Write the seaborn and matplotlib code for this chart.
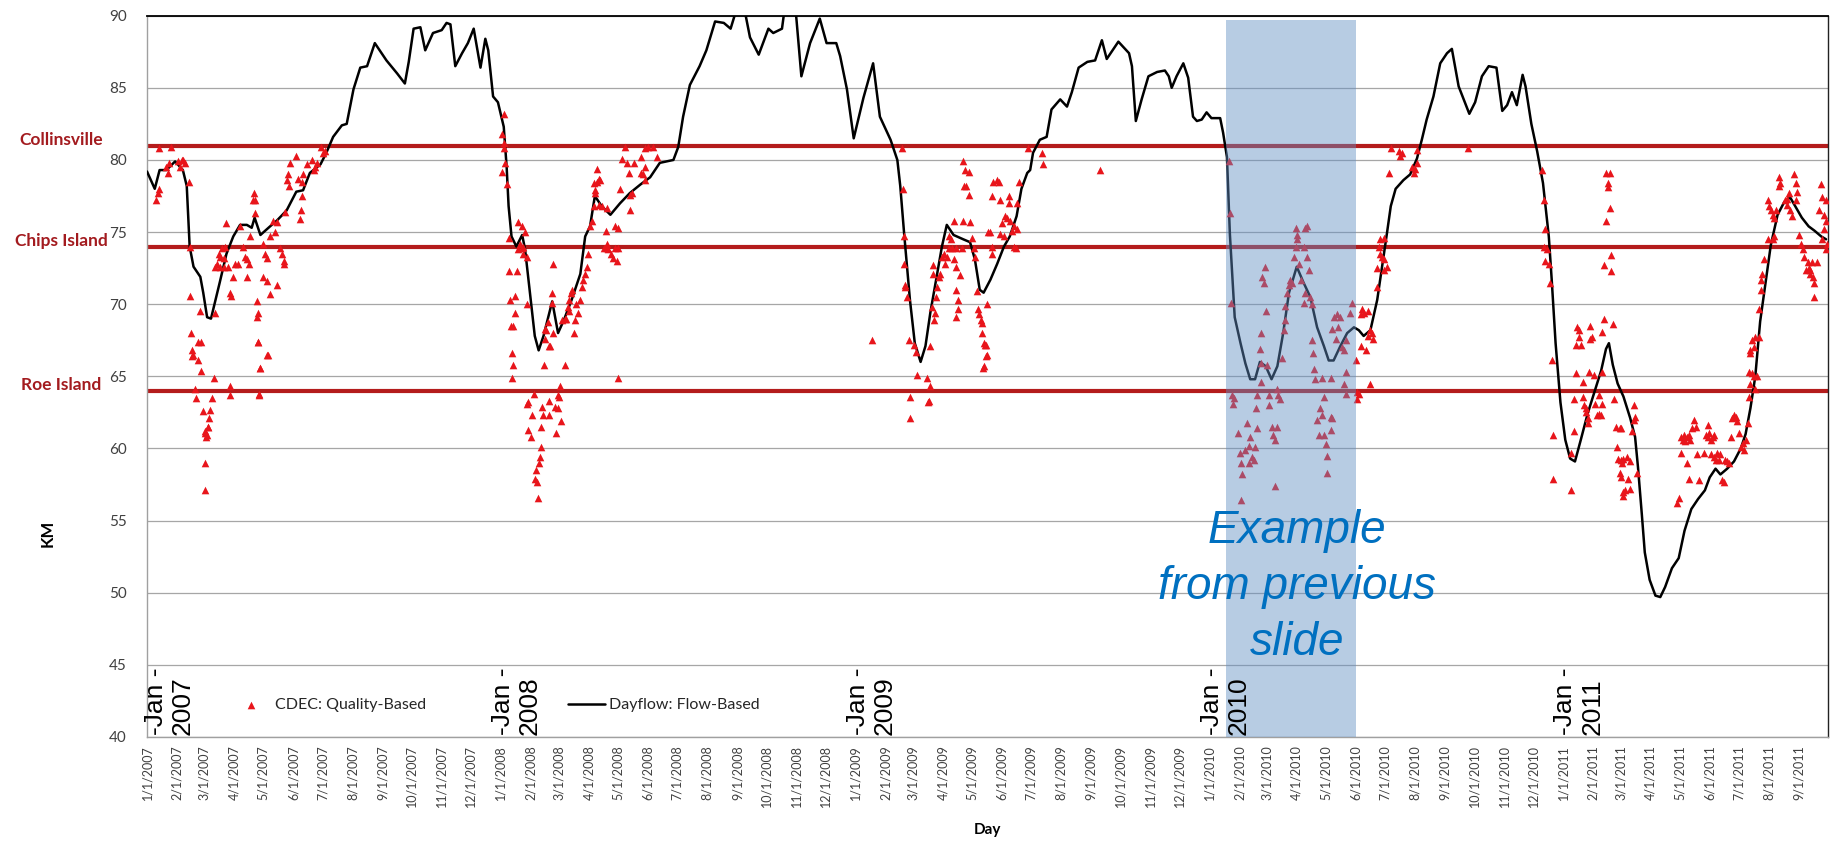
import matplotlib
matplotlib.use("Agg")
import matplotlib.pyplot as plt
import matplotlib.transforms as mtransforms
import pandas as pd
import seaborn as sns

# ---------------------------------------------------------------- data
START = pd.Timestamp("2007-01-01")
END = pd.Timestamp("2011-10-01")

# Dayflow X2 position (days after 1 Jan 2007, km)
flow_day = [0, 8, 13, 20, 29, 37, 41, 44, 48, 55, 58, 62, 66, 75, 82, 89, 96, 103, 108, 111, 117, 122, 127, 134,
            144, 154, 161, 168, 179, 185, 192, 201, 206, 213, 220, 227, 235, 247, 258, 266, 270, 275, 282, 287,
            295, 304, 309, 313, 318, 325, 331, 337, 344, 349, 352, 357, 362, 368, 371, 373, 376, 381, 387, 390,
            395, 400, 404, 409, 418, 424, 430, 438, 447, 452, 457, 462, 469, 478, 488, 498, 509, 519, 529, 543,
            548, 553, 560, 570, 577, 586, 595, 602, 607, 617, 622, 631, 641, 646, 655, 658, 663, 669, 670, 675,
            684, 694, 701, 711, 715, 722, 729, 739, 749, 756, 767, 774, 777, 781, 787, 792, 798, 803, 808, 815,
            820, 825, 832, 842, 849, 854, 859, 863, 870, 877, 884, 890, 897, 902, 908, 911, 914, 921, 928, 933,
            942, 949, 954, 961, 970, 978, 985, 990, 995, 1002, 1013, 1016, 1020, 1026, 1033, 1042, 1050, 1054,
            1057, 1062, 1069, 1074, 1079, 1083, 1088, 1093, 1098, 1107, 1110, 1114, 1117, 1122, 1128, 1133, 1138,
            1143, 1148, 1154, 1160, 1166, 1172, 1178, 1186, 1193, 1200, 1207, 1214, 1219, 1224, 1231, 1238, 1245,
            1250, 1255, 1262, 1269, 1276, 1279, 1283, 1288, 1296, 1303, 1310, 1315, 1320, 1327, 1334, 1341, 1346,
            1353, 1364, 1370, 1377, 1384, 1392, 1398, 1403, 1408, 1413, 1419, 1422, 1428, 1434, 1440, 1446, 1449,
            1453, 1458, 1463, 1468, 1473, 1479, 1486, 1493, 1500, 1505, 1508, 1512, 1517, 1523, 1530, 1535, 1538,
            1542, 1545, 1550, 1556, 1561, 1566, 1573, 1580, 1586, 1593, 1600, 1607, 1612, 1618, 1623, 1630, 1637,
            1644, 1649, 1654, 1659, 1664, 1670, 1675, 1682, 1689, 1695, 1701, 1707, 1714, 1720, 1727, 1732]
flow_km = [79.2, 78.0, 79.3, 79.3, 79.9, 79.3, 78.2, 74.0, 72.6, 71.9, 70.8, 69.1, 69.0, 71.5, 73.5, 74.7, 75.5,
           75.5, 75.3, 76.0, 74.8, 75.1, 75.4, 75.8, 76.5, 77.8, 77.9, 79.1, 79.7, 80.5, 81.6, 82.4, 82.5, 84.9,
           86.4, 86.5, 88.1, 86.9, 86.0, 85.3, 86.8, 89.1, 89.2, 87.6, 88.8, 89.0, 89.5, 89.4, 86.5, 87.4, 88.1,
           89.1, 86.4, 88.4, 87.6, 84.4, 84.0, 82.3, 79.5, 76.8, 74.7, 74.0, 74.8, 73.8, 70.8, 67.8, 66.8, 67.8,
           70.2, 68.0, 68.9, 70.3, 72.1, 74.7, 75.4, 77.5, 76.8, 76.2, 77.0, 77.7, 78.3, 78.8, 79.8, 80.0, 80.9,
           83.0, 85.2, 86.5, 87.6, 89.6, 89.5, 89.1, 90.2, 90.2, 88.5, 87.3, 89.1, 88.8, 89.1, 90.6, 91.5, 90.4,
           89.7, 85.8, 88.1, 89.8, 88.1, 88.1, 87.2, 84.9, 81.5, 84.3, 86.7, 83.0, 81.4, 80.0, 78.2, 74.9, 70.3,
           67.3, 66.0, 67.1, 69.4, 72.1, 74.0, 75.5, 74.8, 74.5, 74.3, 73.1, 71.0, 70.8, 71.7, 72.8, 74.0, 74.7,
           76.1, 78.0, 79.1, 79.3, 80.5, 81.4, 81.6, 83.5, 84.2, 83.7, 84.7, 86.4, 86.8, 86.9, 88.3, 87.0, 87.5,
           88.2, 87.4, 86.5, 82.7, 84.2, 85.8, 86.1, 86.2, 85.8, 85.0, 85.8, 86.7, 85.7, 83.0, 82.7, 82.8, 83.3,
           82.9, 82.9, 81.9, 80.2, 74.9, 69.1, 67.3, 65.9, 64.8, 64.8, 66.0, 65.7, 64.8, 65.7, 68.0, 70.8, 72.6,
           71.5, 70.5, 68.4, 67.1, 66.1, 66.1, 67.1, 68.0, 68.4, 68.2, 67.8, 68.2, 70.3, 73.5, 74.9, 76.8, 78.0,
           78.6, 79.0, 80.1, 81.4, 82.8, 84.4, 86.7, 87.4, 87.7, 85.1, 83.2, 84.0, 85.8, 86.5, 86.4, 83.4, 83.8,
           84.7, 83.8, 85.9, 85.1, 82.5, 80.6, 78.4, 74.7, 71.7, 67.3, 63.2, 60.6, 59.3, 59.1, 60.6, 62.4, 63.9,
           65.4, 66.9, 67.3, 65.8, 64.5, 63.6, 62.1, 60.8, 58.7, 55.4, 52.8, 50.9, 49.8, 49.7, 50.4, 51.7, 52.4,
           54.3, 55.8, 56.5, 57.1, 58.0, 58.6, 58.2, 58.6, 59.1, 60.0, 61.0, 62.8, 65.0, 68.8, 71.7, 74.1, 76.2,
           77.1, 77.4, 76.7, 76.0, 75.4, 75.1, 74.7, 74.5]

# CDEC quality-based X2 samples (days after 1 Jan 2007, km), by water season
cdec_2007 = [(12, 80.8), (25, 80.9), (9, 77.2), (11, 77.7), (12, 78.0), (20, 79.5), (23, 79.8), (22, 79.1),
             (32, 79.9), (36, 80.0), (37, 80.0), (39, 79.8), (34, 79.5), (43, 78.5), (44, 74.0), (44, 70.6),
             (45, 68.0), (46, 66.8), (46, 66.4), (47, 66.5), (53, 67.4), (56, 67.4), (53, 66.1), (56, 65.4),
             (55, 69.5), (69, 64.9), (67, 63.5), (70, 69.4), (49, 64.1), (51, 63.5), (86, 64.3), (86, 63.7),
             (58, 62.6), (65, 62.7), (64, 62.1), (63, 61.5), (60, 61.1), (62, 60.9), (114, 67.4), (124, 66.5),
             (117, 65.6), (116, 63.8), (60, 57.1), (60, 59.0), (60, 61.2), (61, 60.8), (63, 61.5),
             (82, 75.6), (74, 73.5), (77, 73.9), (80, 74.0), (72, 72.8), (75, 72.6), (79, 72.6), (70, 72.6),
             (75, 73.3), (79, 73.2), (84, 72.6), (89, 71.9), (87, 70.6), (86, 70.8), (91, 72.8), (94, 72.8),
             (96, 75.4), (99, 74.0), (101, 73.3), (103, 73.1), (105, 72.8), (106, 74.7), (103, 71.9),
             (110, 77.7), (111, 77.2), (109, 77.2), (111, 76.3), (113, 70.2), (115, 69.4), (113, 69.1),
             (115, 67.4), (117, 65.6), (116, 63.7), (125, 66.5), (120, 74.2), (122, 73.5), (124, 73.2),
             (120, 71.9), (124, 71.6), (127, 70.7), (134, 71.3), (127, 74.7), (130, 75.8), (134, 75.7),
             (132, 75.0), (137, 73.9), (139, 73.5), (141, 73.0), (141, 72.8), (142, 76.4), (146, 78.2),
             (144, 78.6), (148, 79.8), (145, 79.0), (154, 80.3), (156, 78.7), (158, 75.9), (159, 76.5),
             (160, 77.5), (161, 79.0), (160, 78.5), (165, 79.7), (170, 80.0), (172, 79.3), (173, 79.5),
             (175, 79.8), (180, 80.9), (182, 80.5), (184, 80.6)]
cdec_2008 = [(368, 83.2), (366, 81.8), (368, 81.2), (368, 80.8), (369, 79.8), (366, 79.2), (371, 78.3),
             (373, 74.6), (373, 72.3), (382, 72.3), (374, 70.3), (380, 70.6), (380, 69.4), (375, 68.5),
             (378, 68.5), (376, 66.6), (378, 65.8), (377, 64.9), (383, 75.7), (387, 75.4), (390, 75.0),
             (385, 74.2), (388, 74.0), (383, 73.8), (388, 73.5), (392, 73.3), (387, 73.9), (392, 70.0),
             (410, 65.8), (431, 65.8), (415, 67.1), (399, 63.8), (426, 64.3), (425, 63.6), (393, 63.2),
             (407, 62.9), (415, 63.3), (421, 62.9), (424, 62.8), (397, 62.3), (409, 62.3), (415, 62.3),
             (427, 61.9), (393, 61.3), (396, 60.8), (406, 61.5), (422, 61.1), (406, 60.1), (405, 59.4),
             (401, 58.5), (402, 57.7), (403, 56.6), (400, 57.9), (404, 59.0), (392, 63.1), (424, 63.7),
             (419, 72.8), (418, 70.8), (418, 70.1), (414, 68.8), (411, 68.3), (412, 68.2), (419, 68.0),
             (416, 67.1), (411, 67.6), (428, 68.9), (431, 69.0), (434, 69.8), (435, 70.3), (437, 70.8),
             (438, 71.0), (435, 69.5), (432, 69.0), (440, 68.0), (442, 68.9), (443, 70.0), (445, 69.4),
             (447, 70.3), (449, 71.2), (450, 71.7), (452, 72.1), (454, 72.6), (455, 73.5), (457, 75.4),
             (459, 75.8), (461, 76.8), (462, 77.7), (464, 78.5), (461, 78.4), (466, 78.7), (467, 78.6),
             (464, 79.4), (462, 77.9), (466, 76.9), (469, 76.8), (474, 76.7), (473, 75.1), (474, 74.2),
             (471, 73.9), (476, 73.8), (479, 73.5), (481, 73.2), (485, 73.0), (483, 73.9), (486, 73.9),
             (474, 73.9), (483, 75.4), (486, 75.3), (486, 64.9), (488, 78.0), (493, 80.9), (495, 79.8),
             (502, 79.8), (490, 80.1), (497, 79.1), (498, 77.6), (500, 77.7), (498, 76.5), (510, 80.2),
             (514, 80.8), (517, 80.9), (522, 80.9), (526, 80.2), (514, 79.5), (512, 79.0), (514, 78.6),
             (510, 79.1)]
cdec_2009 = [(748, 67.5), (779, 80.8), (780, 78.0), (781, 74.7), (781, 72.8), (782, 71.3), (782, 71.2),
             (784, 70.5), (786, 67.5), (791, 67.2), (793, 66.7), (794, 65.1), (805, 64.9), (808, 64.3),
             (787, 63.6), (806, 63.2), (787, 62.1), (807, 63.3), (864, 67.2), (865, 66.4), (862, 65.6),
             (808, 67.1), (810, 69.8), (813, 69.4), (812, 68.9), (814, 70.5), (815, 71.2), (811, 72.1),
             (811, 72.7), (817, 71.9), (818, 72.1), (820, 73.3), (823, 72.8), (822, 73.5), (825, 73.3),
             (829, 74.5), (827, 73.9), (832, 73.1), (835, 72.6), (839, 72.0), (827, 74.7), (830, 73.9),
             (834, 73.9), (832, 75.8), (841, 73.9), (842, 75.8), (849, 75.7), (851, 74.6), (853, 73.9),
             (854, 73.3), (835, 71.0), (837, 70.3), (837, 69.7), (835, 69.1), (842, 79.9), (844, 79.3),
             (848, 79.2), (843, 78.2), (845, 78.2), (848, 77.6), (856, 70.9), (857, 69.7), (858, 69.3),
             (860, 68.9), (861, 68.7), (861, 68.0), (863, 67.3), (865, 67.2), (866, 66.5), (863, 65.7),
             (866, 70.0), (868, 75.0), (870, 75.0), (872, 74.0), (872, 73.5), (873, 78.5), (877, 78.6),
             (879, 78.5), (872, 77.5), (880, 77.2), (882, 75.6), (880, 74.9), (884, 74.7), (885, 76.1),
             (887, 76.0), (889, 77.5), (889, 77.0), (890, 75.8), (894, 75.4), (892, 75.1), (894, 74.0),
             (896, 73.9), (897, 75.2), (899, 78.5), (897, 77.0), (909, 80.8), (923, 80.5), (924, 79.7),
             (983, 79.3)]
cdec_2010 = [(1116, 79.9), (1117, 76.3), (1118, 70.1), (1119, 63.7), (1121, 63.5), (1120, 63.1),
             (1149, 68.0), (1148, 66.9), (1149, 65.9), (1149, 64.6), (1145, 63.7), (1144, 62.8), (1157, 63.7),
             (1157, 63.0), (1155, 65.8), (1150, 71.9), (1152, 71.5), (1153, 72.6), (1154, 69.5), (1166, 64.1),
             (1167, 63.7), (1169, 63.4), (1171, 66.3), (1173, 68.2), (1174, 68.9), (1174, 69.9), (1176, 70.8),
             (1178, 71.3), (1179, 71.7), (1181, 71.5), (1183, 73.3), (1185, 74.0), (1186, 74.5), (1188, 72.8),
             (1190, 71.7), (1185, 75.3), (1186, 74.8), (1195, 75.3), (1197, 75.4), (1193, 74.0), (1197, 73.3),
             (1199, 72.4), (1195, 70.8), (1200, 70.5), (1193, 70.1), (1202, 70.0), (1202, 67.5), (1203, 66.6),
             (1204, 65.5), (1205, 64.8), (1212, 64.9), (1221, 64.9), (1214, 63.6), (1210, 62.8), (1212, 62.3),
             (1221, 62.2), (1224, 69.1), (1228, 69.3), (1231, 69.1), (1222, 68.3), (1226, 67.6), (1229, 68.4),
             (1233, 67.0), (1235, 66.8), (1237, 65.3), (1241, 69.4), (1243, 70.1), (1237, 67.5), (1235, 64.5),
             (1237, 63.8), (1248, 63.9), (1248, 63.4), (1250, 63.8), (1253, 69.7), (1252, 69.3), (1255, 69.4),
             (1260, 69.5), (1262, 68.2), (1259, 67.8), (1265, 67.6), (1264, 68.0), (1257, 66.8), (1252, 67.1),
             (1247, 66.1), (1262, 64.5), (1271, 74.0), (1272, 73.5), (1274, 73.3), (1276, 73.1), (1276, 72.4),
             (1279, 72.6), (1272, 74.5), (1276, 74.6), (1269, 72.5), (1269, 71.2), (1281, 79.1), (1283, 80.8),
             (1291, 80.6), (1293, 80.3), (1295, 80.5), (1310, 80.7), (1305, 79.5), (1307, 79.1), (1308, 79.4),
             (1310, 79.8), (1363, 80.8), (1125, 61.1), (1135, 61.8), (1138, 60.8), (1137, 60.2), (1143, 60.1),
             (1140, 59.4), (1142, 59.2), (1128, 59.0), (1130, 58.2), (1137, 59.0), (1133, 59.9), (1127, 59.7),
             (1145, 61.4), (1129, 56.4), (1160, 61.5), (1162, 60.9), (1164, 60.6), (1166, 61.5), (1164, 57.4),
             (1207, 62.0), (1209, 60.9), (1214, 60.9), (1216, 60.3), (1217, 59.5), (1221, 61.3), (1217, 58.3),
             (1222, 62.1)]
cdec_2011 = [(1439, 79.3), (1441, 77.2), (1442, 75.2), (1441, 74.0), (1444, 73.8), (1442, 73.0), (1446, 72.8),
             (1447, 71.5), (1449, 66.1), (1450, 60.9), (1450, 57.9), (1469, 59.7), (1469, 57.1), (1472, 63.4),
             (1472, 61.2), (1474, 65.2), (1474, 67.2), (1475, 68.4), (1477, 68.2), (1477, 67.7), (1479, 67.2),
             (1481, 64.6), (1481, 63.6), (1482, 63.0), (1484, 62.8), (1486, 62.1), (1486, 61.8), (1484, 62.5),
             (1489, 68.5), (1491, 67.7), (1489, 67.6), (1487, 65.3), (1493, 65.1), (1494, 63.1), (1496, 62.3),
             (1498, 62.4), (1500, 62.3), (1501, 63.1), (1503, 69.0), (1501, 68.1), (1501, 65.3), (1498, 63.7),
             (1505, 79.1), (1507, 78.4), (1507, 78.1), (1509, 76.7), (1505, 75.8), (1509, 79.1), (1510, 73.4),
             (1503, 72.7), (1510, 72.3), (1512, 68.6), (1513, 63.4), (1515, 61.5), (1519, 61.4), (1520, 61.4),
             (1516, 60.1), (1517, 59.3), (1520, 59.2), (1522, 59.0), (1523, 59.3), (1527, 59.4), (1530, 59.1),
             (1519, 58.3), (1520, 58.0), (1528, 57.9), (1523, 57.0), (1525, 57.1), (1530, 57.2), (1523, 56.7),
             (1534, 63.0), (1535, 62.2), (1534, 62.0), (1532, 61.2), (1537, 58.3), (1578, 56.2), (1580, 56.6),
             (1582, 60.8), (1584, 60.6), (1585, 60.9), (1587, 60.5), (1589, 60.8), (1591, 60.9), (1592, 60.6),
             (1582, 59.7), (1589, 59.0), (1591, 57.9), (1594, 61.4), (1596, 62.0), (1598, 61.5), (1601, 57.8),
             (1599, 59.6), (1606, 59.7), (1608, 60.9), (1610, 60.8), (1611, 61.1), (1613, 60.6), (1615, 60.8),
             (1616, 60.9), (1610, 61.6), (1613, 59.6), (1616, 59.4), (1618, 59.2), (1620, 59.7), (1622, 59.2),
             (1623, 59.6), (1625, 57.8), (1627, 57.7), (1628, 59.2), (1630, 59.1), (1632, 59.0), (1634, 60.8),
             (1635, 62.1), (1637, 62.3), (1639, 62.2), (1640, 61.9), (1642, 61.1), (1644, 60.1), (1646, 60.4),
             (1647, 59.9), (1649, 60.6), (1651, 61.8), (1653, 63.6), (1654, 64.5), (1653, 65.3), (1656, 65.2),
             (1658, 65.0), (1659, 64.1), (1661, 65.0), (1654, 66.8), (1656, 67.5), (1658, 67.0), (1659, 67.7),
             (1663, 67.7), (1654, 66.6), (1663, 69.7), (1665, 71.0), (1665, 71.7), (1666, 72.1), (1668, 73.1),
             (1672, 74.5), (1677, 74.5), (1678, 74.7), (1672, 77.2), (1675, 76.5), (1677, 76.2), (1678, 76.0),
             (1673, 76.8), (1680, 76.5), (1683, 78.8), (1685, 78.4), (1683, 78.2), (1690, 77.2), (1694, 77.7),
             (1692, 76.9), (1695, 76.5), (1697, 76.1), (1699, 79.0), (1701, 78.4), (1702, 77.8), (1701, 77.2),
             (1692, 77.3), (1704, 74.8), (1706, 74.2), (1708, 73.8), (1709, 73.3), (1713, 72.9), (1711, 72.4),
             (1714, 72.5), (1715, 72.1), (1717, 72.9), (1719, 71.9), (1720, 71.5), (1723, 72.9), (1720, 70.5),
             (1715, 72.4), (1725, 76.5), (1728, 77.4), (1730, 76.2), (1732, 75.8), (1727, 78.3), (1732, 77.2),
             (1730, 75.2), (1728, 74.5), (1732, 73.8), (1733, 74.2)]

# Reference locations along the estuary (km)
landmark_names = ["Collinsville", "Chips Island", "Roe Island"]
landmark_km = [81, 74, 64]

# Highlighted period and its note
highlight_start = pd.Timestamp("2010-01-18")
highlight_end = pd.Timestamp("2010-06-01")
highlight_top_km = 89.7
highlight_note = "Example\nfrom previous\nslide"
highlight_note_date = pd.Timestamp("2010-04-01")
highlight_note_km = 50.4

year_marks = [2007, 2008, 2009, 2010, 2011]

# ---------------------------------------------------------------- frames
def to_dates(days):
    return START + pd.to_timedelta(pd.Series(days, dtype=float), unit="D")

flow = pd.DataFrame({"date": to_dates(flow_day), "km": flow_km})
cdec_pts = cdec_2007 + cdec_2008 + cdec_2009 + cdec_2010 + cdec_2011
cdec = pd.DataFrame(cdec_pts, columns=["day", "km"])
cdec["date"] = to_dates(cdec["day"]).values

# ---------------------------------------------------------------- figure
sns.set_theme(style="white")
plt.rcParams["font.family"] = ["Lato", "DejaVu Sans"]

W, H = 1835, 841
fig = plt.figure(figsize=(W / 100, H / 100), dpi=100)
ax_l, ax_r, ax_t, ax_b = 147, 1828, 15.7, 737
ax = fig.add_axes([ax_l / W, 1 - ax_b / H, (ax_r - ax_l) / W, (ax_b - ax_t) / H])

ax.set_xlim(START, END)
ax.set_ylim(40, 90)
ax.set_yticks(range(40, 91, 5))
ax.yaxis.grid(True, color="#a6a6a6", lw=0.9)
ax.set_axisbelow(True)

red_line = "#b41c1c"
for km in landmark_km:
    ax.axhline(km, color=red_line, lw=3.0, zorder=2)

sns.lineplot(data=flow, x="date", y="km", ax=ax, color="black", lw=1.8,
             estimator=None, sort=False, zorder=3, label="Dayflow: Flow-Based")
sns.scatterplot(data=cdec, x="date", y="km", ax=ax, marker="^", color="#e8151b",
                s=30, linewidth=0, zorder=4, label="CDEC: Quality-Based")

# translucent highlight over the selected period
ax.axvspan(highlight_start, highlight_end, ymin=0, ymax=(highlight_top_km - 40) / 50,
           color=(97 / 255, 142 / 255, 195 / 255), alpha=0.45, lw=0, zorder=5)
ax.text(highlight_note_date, highlight_note_km, highlight_note, ha="center", va="center",
        fontsize=33, style="italic", color="#0070c0", family=["Liberation Sans", "DejaVu Sans"],
        linespacing=1.35, zorder=6)

# monthly axis
ticks = pd.date_range(START, "2011-09-01", freq="MS")
ax.set_xticks(ticks)
ax.set_xticklabels([f"{d.month}/{d.day}/{d.year}" for d in ticks], rotation=90,
                   fontsize=9, color="#404040")
ax.tick_params(axis="x", direction="inout", length=8, width=0.9, color="#8c8c8c", pad=2)
ax.tick_params(axis="y", direction="out", length=5, width=0.9, color="#8c8c8c",
               labelsize=11, labelcolor="#404040", pad=9.5)
ax.set_xlabel("")
ax.set_ylabel("")

for side in ("left", "bottom"):
    ax.spines[side].set_color("#a0a0a0")
    ax.spines[side].set_linewidth(1.0)
ax.spines["top"].set_color("black")
ax.spines["top"].set_linewidth(1.3)
ax.spines["right"].set_color("#222222")
ax.spines["right"].set_linewidth(1.0)

# year markers above the axis
for yr in year_marks:
    shift = 23 if yr == year_marks[0] else 16
    ax.text(pd.Timestamp(f"{yr}-01-01") + pd.Timedelta(days=shift), 40.15, f"-Jan -\n{yr}",
            rotation=90, ha="center", va="bottom", multialignment="left", fontsize=19,
            family=["Liberation Sans", "DejaVu Sans"], color="black", linespacing=1.15, zorder=6)

# landmark names in the left margin
blend = mtransforms.blended_transform_factory(fig.transFigure, ax.transData)
for name, km in zip(landmark_names, landmark_km):
    ax.text(61 / W, km + 0.4, name, transform=blend, ha="center", va="center",
            fontsize=12.5, weight="bold", color="#a31b1f", clip_on=False)

fig.text((ax_l + ax_r) / 2 / W, 1 - 830 / H, "Day", ha="center", va="center",
         fontsize=11, weight="bold", color="black")
fig.text(48 / W, 1 - 533 / H, "KM", rotation=90, ha="center", va="center",
         fontsize=12, weight="bold", color="black")

# legend inside the lower band
handles, labels = ax.get_legend_handles_labels()
order = [labels.index("CDEC: Quality-Based"), labels.index("Dayflow: Flow-Based")]
leg = ax.legend([handles[i] for i in order], [labels[i] for i in order],
                loc="center left", bbox_to_anchor=(233 / W, 1 - 705 / H),
                bbox_transform=fig.transFigure, ncol=2, frameon=False, fontsize=11.5,
                handlelength=2.3, handletextpad=0.3, columnspacing=8.9,
                borderpad=0, borderaxespad=0)
for t in leg.get_texts():
    t.set_color("#262626")
leg.set_zorder(6)

fig.savefig("out.png", dpi=100)
